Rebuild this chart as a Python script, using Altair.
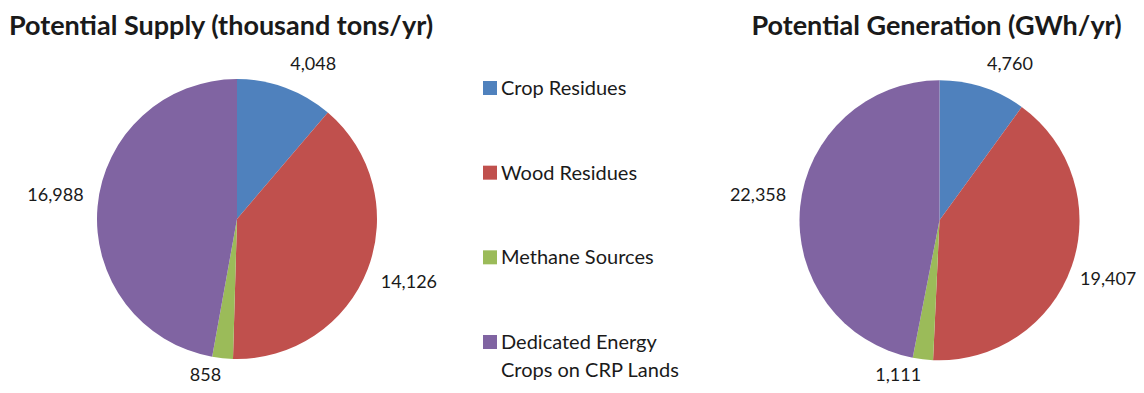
import altair as alt
import pandas as pd

# ---- data ----
categories = ["Crop Residues", "Wood Residues", "Methane Sources", "Dedicated Energy Crops on CRP Lands"]
legend_labels = ["Crop Residues", "Wood Residues", "Methane Sources", "Dedicated Energy\nCrops on CRP Lands"]
supply = [4048, 14126, 858, 16988]
generation = [4760, 19407, 1111, 22358]
colors = ["#4F81BD", "#C0504D", "#9BBB59", "#8064A2"]
titles = ["Potential Supply (thousand tons/yr)", "Potential Generation (GWh/yr)"]

FONT = "Lato"
TEXT_COLOR = "#1a1a1a"
W, H = 1128, 377
R_PIE = 140
R_LAB = 154

color_scale = alt.Scale(domain=categories, range=colors)


def pie(values, cx, cy, title, tx):
    df = pd.DataFrame({"category": categories, "value": values, "idx": list(range(len(values)))})
    base = alt.Chart(df)
    arc = base.mark_arc(radius=R_PIE, strokeWidth=0).encode(
        x=alt.value(cx), y=alt.value(cy),
        theta=alt.Theta("value:Q", stack=True),
        color=alt.Color("category:N", scale=color_scale, legend=None),
        order=alt.Order("idx:Q"),
    )
    labels = base.transform_joinaggregate(total="sum(value)").transform_window(
        cum="sum(value)", sort=[alt.SortField("idx")]
    ).transform_calculate(
        mid="(datum.cum - datum.value/2) / datum.total * 2 * PI",
    ).transform_calculate(
        lx=f"min({cx} + {R_LAB} * sin(datum.mid), {W - 56})",
        ly=f"min({cy} - {R_LAB} * cos(datum.mid), {H - 18})",
        sx="sin(datum.mid)",
        cy_="cos(datum.mid)",
    ).mark_text(
        font=FONT, fontSize=18, color=TEXT_COLOR,
        align=alt.expr("datum.sx >= 0 ? 'left' : 'right'"),
        baseline=alt.expr("datum.cy_ >= 0 ? 'bottom' : 'top'"),
    ).encode(
        x=alt.X("lx:Q", scale=None),
        y=alt.Y("ly:Q", scale=None),
        text=alt.Text("value:Q", format=","),
    )
    ttl = alt.Chart(pd.DataFrame({"t": [title]})).mark_text(
        font=FONT, fontSize=27, fontWeight="bold", color=TEXT_COLOR,
        align="center", baseline="alphabetic",
    ).encode(x=alt.value(tx), y=alt.value(27), text="t:N")
    return [arc, labels, ttl]


layers = []
layers += pie(supply, 229, 211, titles[0], 213)
layers += pie(generation, 931.5, 212.3, titles[1], 928.5)

leg_df = pd.DataFrame({"category": categories, "label": legend_labels})
leg_y = alt.Y("category:N", sort=categories, scale=alt.Scale(type="point", range=[80, 334], padding=0), axis=None)
leg_sq = alt.Chart(leg_df).mark_square(size=196, opacity=1).encode(
    x=alt.value(482), y=leg_y,
    color=alt.Color("category:N", scale=color_scale, legend=None),
)
leg_tx = alt.Chart(leg_df).mark_text(
    font=FONT, fontSize=20, color=TEXT_COLOR, align="left", baseline="alphabetic",
    dy=7, lineBreak="\n", lineHeight=28,
).encode(x=alt.value(493), y=leg_y, text="label:N")
layers += [leg_sq, leg_tx]

chart = alt.layer(*layers).resolve_scale(theta="independent").properties(
    width=W, height=H, padding=0, autosize=alt.AutoSizeParams(type="none"), background="white"
).configure_view(stroke=None)

chart.save("out.html", embed_options={"renderer": "svg", "actions": False})
